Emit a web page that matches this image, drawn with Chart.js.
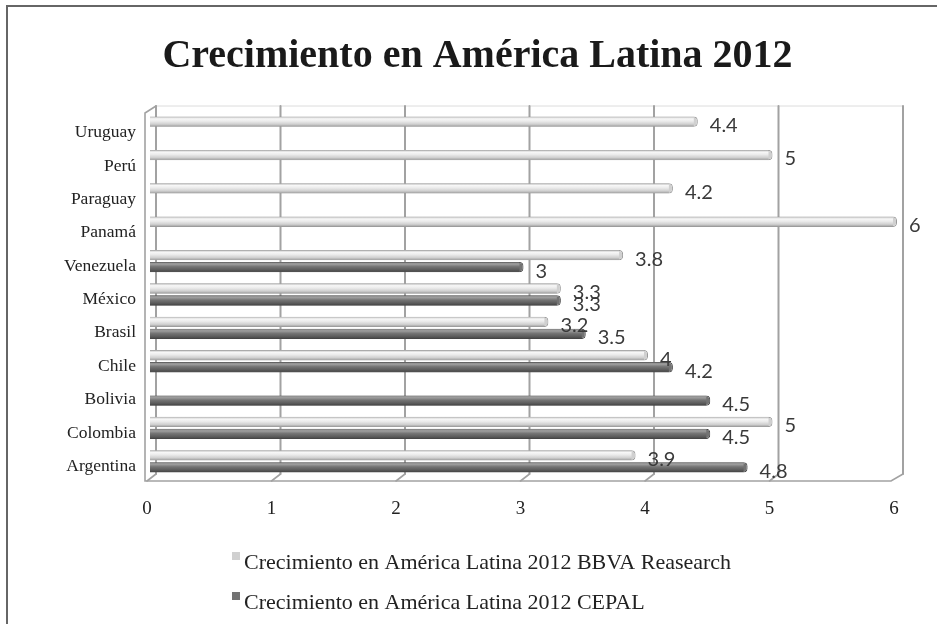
<!DOCTYPE html>
<html lang="es">
<head>
<meta charset="utf-8">
<title>Crecimiento en América Latina 2012</title>
<script src="https://cdn.jsdelivr.net/npm/chart.js@4.4.1/dist/chart.umd.min.js"></script>
<style>
  html, body { margin: 0; padding: 0; background: #fff; }
  #wrap { width: 937px; height: 624px; }
</style>
</head>
<body>
<div id="wrap"><canvas id="crecimientoChart" width="937" height="624"></canvas></div>
<script>
// Datos (de arriba hacia abajo)
const paises = ['Uruguay', 'Perú', 'Paraguay', 'Panamá', 'Venezuela', 'México',
                'Brasil', 'Chile', 'Bolivia', 'Colombia', 'Argentina'];
const bbva  = [4.4, 5, 4.2, 6, 3.8, 3.3, 3.2, 4, null, 5, 3.9];
const cepal = [null, null, null, null, 3, 3.3, 3.5, 4.2, 4.5, 4.5, 4.8];
const xTicks = [0, 1, 2, 3, 4, 5, 6];
const nombresSeries = [
  'Crecimiento en América Latina 2012 BBVA Reasearch',
  'Crecimiento en América Latina 2012 CEPAL'
];

const SERIF = '"Liberation Serif", "Times New Roman", serif';

// Marco exterior de la figura
const marco = {
  id: 'marco',
  beforeDraw(chart) {
    const ctx = chart.ctx;
    ctx.save();
    ctx.fillStyle = '#fff';
    ctx.fillRect(0, 0, chart.width, chart.height);
    ctx.strokeStyle = '#666';
    ctx.lineWidth = 2;
    ctx.strokeRect(7, 6, chart.width + 20, chart.height + 20);
    ctx.restore();
  }
};

// Paredes y suelo en falso 3D
const pared3d = {
  id: 'pared3d',
  beforeDatasetsDraw(chart) {
    const { ctx, chartArea: a, scales: { x } } = chart;
    const backTop = a.top - 5, backBottom = a.bottom - 4;
    const frontTop = a.top + 2, frontBottom = a.bottom + 3;
    const p0 = x.getPixelForValue(xTicks[0]);
    const pN = x.getPixelForValue(xTicks[xTicks.length - 1]);
    const leftX = p0 - 5;

    ctx.save();
    ctx.lineCap = 'round';
    // borde superior del fondo
    ctx.strokeStyle = '#dcdcdc';
    ctx.lineWidth = 1;
    ctx.beginPath();
    ctx.moveTo(p0 + 6, backTop);
    ctx.lineTo(pN + 6, backTop);
    ctx.stroke();

    // líneas verticales del fondo
    ctx.strokeStyle = '#a2a2a2';
    ctx.lineWidth = 2;
    xTicks.forEach(v => {
      const px = x.getPixelForValue(v) + 6;
      ctx.beginPath();
      ctx.moveTo(px, backTop);
      ctx.lineTo(px, backBottom);
      ctx.stroke();
    });

    // pared izquierda y suelo
    ctx.lineWidth = 1.6;
    ctx.beginPath();
    ctx.moveTo(p0 + 6, backTop);
    ctx.lineTo(leftX, frontTop);
    ctx.lineTo(leftX, frontBottom);
    ctx.lineTo(pN - 6, frontBottom);
    ctx.lineTo(pN + 6, backBottom);
    ctx.stroke();

    // marcas del suelo
    xTicks.slice(0, -1).forEach(v => {
      const px = x.getPixelForValue(v);
      ctx.beginPath();
      ctx.moveTo(px - 3, frontBottom);
      ctx.lineTo(px + 6, backBottom);
      ctx.stroke();
    });
    ctx.restore();
  }
};

// Brillo cilíndrico y etiquetas de valor
const cilindros = {
  id: 'cilindros',
  afterDatasetsDraw(chart) {
    const ctx = chart.ctx;
    const degradados = [
      ['#b4b4b4', '#f7f7f7', '#ebebeb', '#cfcfcf', '#979797'],
      ['#8a8a8a', '#9c9c9c', '#757575', '#5c5c5c', '#404040']
    ];
    ctx.save();
    chart.data.datasets.forEach((ds, di) => {
      const meta = chart.getDatasetMeta(di);
      meta.data.forEach((el, i) => {
        if (ds.data[i] === null) return;
        const { x, y, base, height } = el.getProps(['x', 'y', 'base', 'height'], true);
        const top = y - height / 2;
        const g = ctx.createLinearGradient(0, top, 0, top + height);
        const c = degradados[di];
        g.addColorStop(0, c[0]);
        g.addColorStop(0.22, c[1]);
        g.addColorStop(0.45, c[2]);
        g.addColorStop(0.75, c[3]);
        g.addColorStop(1, c[4]);
        ctx.fillStyle = g;
        ctx.fillRect(base, top + 0.5, x - base - 4, height - 1);
      });
    });

    ctx.font = '20px Lato, "DejaVu Sans", sans-serif';
    ctx.fillStyle = '#3a3a3a';
    ctx.textBaseline = 'middle';
    ctx.textAlign = 'left';
    chart.data.datasets.forEach((ds, di) => {
      const meta = chart.getDatasetMeta(di);
      meta.data.forEach((el, i) => {
        const v = ds.data[i];
        if (v === null) return;
        ctx.fillText(String(v), el.x + 12, el.y + 4);
      });
    });
    ctx.restore();
  }
};

// Leyenda vertical
const leyenda = {
  id: 'leyenda',
  afterDraw(chart) {
    const ctx = chart.ctx;
    ctx.save();
    ctx.font = '22px ' + SERIF;
    ctx.textBaseline = 'alphabetic';
    chart.data.datasets.forEach((ds, i) => {
      const y = 552 + i * 40;
      ctx.fillStyle = ds.backgroundColor;
      ctx.fillRect(232, y, 8, 8);
      ctx.fillStyle = '#222';
      ctx.fillText(ds.label, 244, y + 17);
    });
    ctx.restore();
  }
};

new Chart(document.getElementById('crecimientoChart'), {
  type: 'bar',
  data: {
    labels: paises,
    datasets: [
      {
        label: nombresSeries[0],
        data: bbva,
        backgroundColor: '#d0d0d0',
        borderColor: '#999',
        borderWidth: 1,
        borderRadius: 4,
        borderSkipped: 'start',
        categoryPercentage: 0.72,
        barPercentage: 0.86
      },
      {
        label: nombresSeries[1],
        data: cepal,
        backgroundColor: '#737373',
        borderColor: '#454545',
        borderWidth: 1,
        borderRadius: 4,
        borderSkipped: 'start',
        categoryPercentage: 0.72,
        barPercentage: 0.86
      }
    ]
  },
  options: {
    indexAxis: 'y',
    responsive: false,
    animation: false,
    devicePixelRatio: 1,
    layout: { padding: { left: 58, right: 40, top: 0, bottom: 0 } },
    plugins: {
      legend: { display: false },
      tooltip: { enabled: false },
      title: {
        display: true,
        text: 'Crecimiento en América Latina 2012',
        color: '#1a1a1a',
        font: { family: SERIF, size: 40, weight: 'bold' },
        padding: { top: 33, bottom: 30 }
      }
    },
    scales: {
      x: {
        min: 0,
        max: 6,
        afterBuildTicks: s => { s.ticks = xTicks.map(v => ({ value: v })); },
        afterFit: s => { s.height = 146; },
        grid: { display: false, drawTicks: false },
        border: { display: false },
        ticks: {
          padding: 20,
          labelOffset: -3,
          color: '#222',
          font: { family: SERIF, size: 19 }
        }
      },
      y: {
        afterFit: s => { s.width = 92; },
        grid: { display: false, drawTicks: false },
        border: { display: false },
        ticks: {
          padding: 14,
          labelOffset: 5,
          color: '#222',
          font: { family: SERIF, size: 17.5 }
        }
      }
    }
  },
  plugins: [marco, pared3d, cilindros, leyenda]
});
</script>
</body>
</html>
